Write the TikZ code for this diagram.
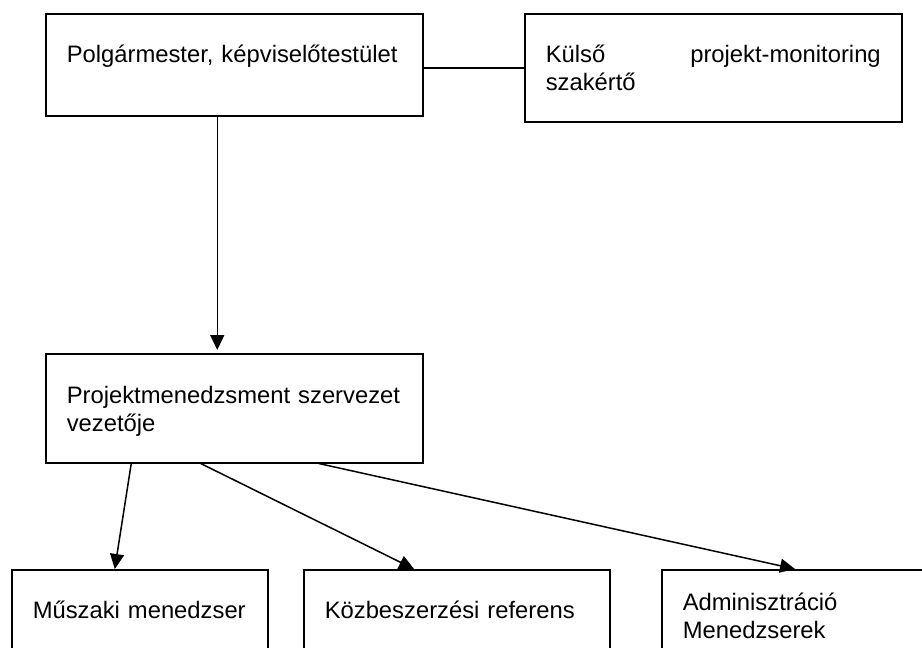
\documentclass[tikz,border=0pt]{standalone}
\usepackage{fontspec}
\setmainfont{Liberation Sans}
\usepackage{tikz}
\usetikzlibrary{positioning,calc,arrows.meta}

\begin{document}
\frenchspacing
\begin{tikzpicture}[x=1pt, y=-1pt,
        orgbox/.style={draw, line width=1.5pt, anchor=north west, align=left,
            inner xsep=21pt, inner ysep=0pt, text height=49pt,
            font=\fontsize{23.8pt}{27.5pt}\selectfont},
        link/.style={line width=1.5pt},
        pointer/.style={line width=1.5pt, -{Triangle[length=15pt,width=14pt]}}]
        \clip (0,0) rectangle (922,648);

        % Top row
        \node[orgbox, text width=335pt, text depth=53pt] (council) at (45,13)
            {\mbox{Polgármester, képviselőtestület}};
        \node[orgbox, text width=335pt, text depth=59pt] (monitor) at (524,13)
            {Külső\hfill projekt-monitoring\\szakértő};
        \draw[link] (monitor.west) -- (monitor.west -| council.east);

        % Project management
        \node[orgbox, text width=335pt, text height=50pt, text depth=59pt] (pm) at (45,353)
            {\mbox{Projektmenedzsment szervezet}\\vezetője};
        \draw[pointer, shorten >=3pt] ([xshift=-17pt]council.south) -- ([xshift=-17pt]pm.north);

        % Bottom row
        \node[orgbox, text width=214pt, text depth=100pt] (tech) at (11,569)
            {\mbox{Műszaki menedzser}};
        \node[orgbox, text width=264pt, text depth=100pt] (procure) at (303,569)
            {Közbeszerzési referens};
        \node[orgbox, text width=258pt, text height=41pt, text depth=100pt] (admin) at (661,569)
            {Adminisztráció\\Menedzserek};

        \draw[pointer] ([xshift=-103pt]pm.south) -- ([xshift=-25pt]tech.north);
        \draw[pointer] ([xshift=-33.5pt]pm.south) -- ([xshift=-42.7pt]procure.north);
        \draw[pointer] ([xshift=84.5pt]pm.south) -- ([xshift=134pt]admin.north west);
    \end{tikzpicture}
\end{document}
